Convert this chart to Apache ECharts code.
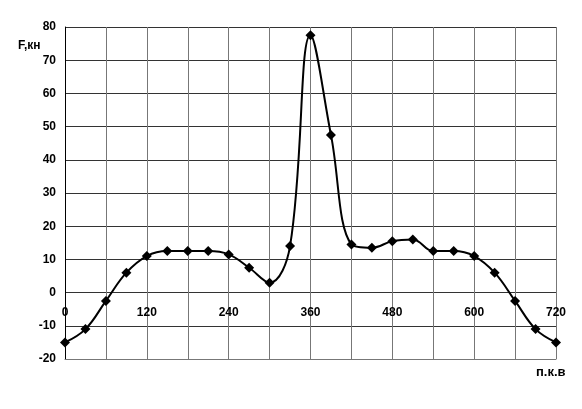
<!DOCTYPE html>
<html><head><meta charset="utf-8">
<script src="https://cdn.jsdelivr.net/npm/echarts@6/dist/echarts.min.js"></script>
<style>html,body{margin:0;padding:0;background:#fff}#c{width:582px;height:409px}</style>
</head><body><div id="c"></div>
<script>
const angles = [0,30,60,90,120,150,180,210,240,270,300,330,360,390,420,450,480,510,540,570,600,630,660,690,720];
const force = [-15,-11,-2.5,6,11,12.5,12.5,12.5,11.5,7.5,3,14,77.5,47.5,14.5,13.5,15.5,16,12.5,12.5,11,6,-2.5,-11,-15];
const xLabels = [0,120,240,360,480,600,720];
const yName = 'F,кн';
const xName = 'п.к.в';

const chart = echarts.init(document.getElementById('c'));
const font = {fontFamily:'Liberation Sans', fontWeight:'bold', fontSize:12, color:'#000'};
chart.setOption({
  animation:false,
  grid:{left:65,right:26,top:27,bottom:50},
  xAxis:{type:'value',min:0,max:720,interval:60,
    axisLine:{onZero:false,lineStyle:{color:'#777',width:1}},
    axisTick:{show:false},
    axisLabel:Object.assign({margin:-52,formatter:v=>xLabels.includes(v)?String(v):''},font),
    splitLine:{show:true,lineStyle:{color:'#777',width:1}}},
  yAxis:{type:'value',min:-20,max:80,interval:10,
    axisLine:{show:true,onZero:false,lineStyle:{color:'#000',width:1}},
    axisTick:{show:false},
    axisLabel:Object.assign({margin:9},font),
    splitLine:{show:true,lineStyle:{color:'#333',width:1}}},
  graphic:[
    {type:'text',left:18,top:40,style:{text:yName,fill:'#000',font:'bold 12px "Liberation Sans"'}},
    {type:'text',left:536,top:366,style:{text:xName,fill:'#000',font:'bold 13px "Liberation Sans"'}}
  ],
  series:[{type:'line',data:angles.map((a,i)=>[a,force[i]]),smooth:0.4,
    symbol:'diamond',symbolSize:10,itemStyle:{color:'#000'},
    lineStyle:{color:'#000',width:2}}]
});
</script></body></html>
